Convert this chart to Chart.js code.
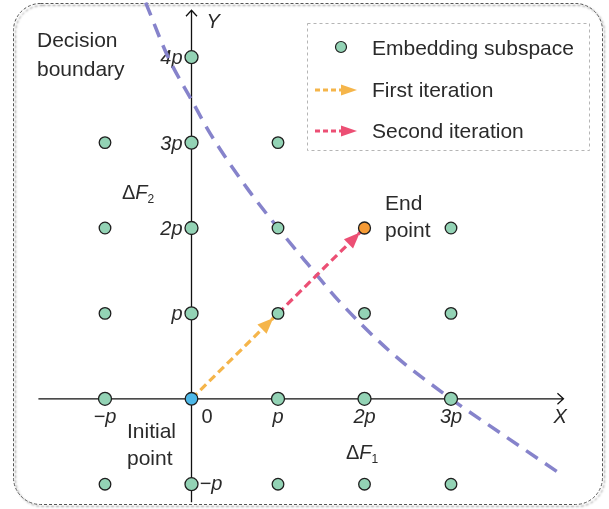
<!DOCTYPE html>
<html><head><meta charset="utf-8">
<script src="https://cdn.jsdelivr.net/npm/chart.js@4.4.1/dist/chart.umd.min.js"></script>
<style>html,body{margin:0;padding:0;background:#fff}#wrap{width:609px;height:509px;position:relative}</style>
</head><body><div id="wrap"><canvas id="c"></canvas></div>
<script>
// ---- data (units of p) ----
const subspaceX = [0, -1, 0, 1, -1, 0, 1, 3, -1, 0, 1, 2, 3, -1, 1, 2, 3, -1, 0, 1, 2, 3];
const subspaceY = [4, 3, 3, 3, 2, 2, 2, 2, 1, 1, 1, 1, 1, 0, 0, 0, 0, -1, -1, -1, -1, -1];
const initialPoint = [0, 0];
const endPoint = [2, 2];
const firstIterX = [0, 1], firstIterY = [0, 1];
const secondIterX = [1, 2], secondIterY = [1, 2];
const boundaryX = [-0.53, -0.27, 0.0, 0.22, 0.64, 1.0, 1.35, 1.70, 2.3, 3.0, 3.57, 4.28];
const boundaryY = [4.64, 4.0, 3.5, 3.1, 2.47, 2.0, 1.57, 1.15, 0.55, 0.0, -0.40, -0.89];
const xTickValues = [-1, 0, 1, 2, 3];
const xTickLabels = ['\u2212p', '0', 'p', '2p', '3p'];
const yTickValues = [4, 3, 2, 1, -1];
const yTickLabels = ['4p', '3p', '2p', 'p', '\u2212p'];
const axisXRange = [-1.77, 4.30];
const axisYRange = [-1.21, 4.55];
const legendLabels = ['Embedding subspace', 'First iteration', 'Second iteration'];

// ---- styles ----
const GREEN = '#93d3b5', EDGE = '#1f1f1f', BLUE = '#4db8e8', ORANGE = '#f59a35';
const ARROW1 = '#f5b54a', ARROW2 = '#ec4f74', CURVE = '#8683cb', TXT = '#2a2a2a';
const FONT = '"Liberation Sans", Arial, sans-serif';

const pts = (xs, ys) => xs.map((x, i) => ({x, y: ys[i]}));

const bgPlugin = {
  id: 'bg',
  beforeDraw(chart) {
    const c = chart.ctx;
    c.save();
    c.fillStyle = '#fff'; c.fillRect(0, 0, chart.width, chart.height);
    c.shadowColor = 'rgba(0,0,0,0.5)'; c.shadowOffsetX = 2; c.shadowOffsetY = 2; c.shadowBlur = 2;
    c.strokeStyle = '#555'; c.lineWidth = 1; c.setLineDash([3, 2]);
    c.beginPath(); c.roundRect(13.5, 3.5, 589, 501, 27); c.stroke();
    c.restore();
  },
  beforeDatasetsDraw(chart) {
    const c = chart.ctx, xs = chart.scales.x, ys = chart.scales.y;
    const x0 = xs.getPixelForValue(0), y0 = ys.getPixelForValue(0);
    c.save();
    c.strokeStyle = '#111'; c.lineWidth = 1.3; c.setLineDash([]);
    const xl = xs.getPixelForValue(axisXRange[0]), xr = xs.getPixelForValue(axisXRange[1]);
    const yb = ys.getPixelForValue(axisYRange[0]), yt = ys.getPixelForValue(axisYRange[1]);
    c.beginPath();
    c.moveTo(xl, y0); c.lineTo(xr, y0);
    c.moveTo(xr - 6, y0 - 5.5); c.lineTo(xr, y0); c.lineTo(xr - 6, y0 + 5.5);
    c.moveTo(x0, yb); c.lineTo(x0, yt);
    c.moveTo(x0 - 5.5, yt + 6); c.lineTo(x0, yt); c.lineTo(x0 + 5.5, yt + 6);
    c.stroke();
    c.fillStyle = TXT;
    c.font = 'italic 20px ' + FONT; c.textAlign = 'left'; c.textBaseline = 'alphabetic';
    c.fillText('Y', x0 + 15, yt + 18);
    c.fillText('X', xr - 10, y0 + 24);
    // x tick labels
    xTickValues.forEach((v, i) => {
      const px = xs.getPixelForValue(v);
      if (v === 0) { c.font = '20px ' + FONT; c.textAlign = 'left'; c.fillText(xTickLabels[i], px + 10, y0 + 24); }
      else { c.font = 'italic 20px ' + FONT; c.textAlign = 'center'; c.fillText(xTickLabels[i], px, y0 + 24); }
    });
    // y tick labels
    c.font = 'italic 20px ' + FONT;
    yTickValues.forEach((v, i) => {
      const py = ys.getPixelForValue(v);
      if (v < 0) { c.textAlign = 'left'; c.fillText(yTickLabels[i], x0 + 8, py + 6); }
      else { c.textAlign = 'right'; c.fillText(yTickLabels[i], x0 - 9, py + 7); }
    });
    // annotations
    c.font = '21px ' + FONT; c.textAlign = 'left';
    c.fillText('Decision', 37, 47); c.fillText('boundary', 37, 76);
    c.fillText('End', 385, 210); c.fillText('point', 385, 237);
    c.fillText('Initial', 127, 438); c.fillText('point', 127, 465);
    const delta = (x, y, sub) => {
      c.font = '20px ' + FONT; c.fillText('\u0394', x, y);
      let w = c.measureText('\u0394').width;
      c.font = 'italic 20px ' + FONT; c.fillText('F', x + w, y);
      w += c.measureText('F').width;
      c.font = '12px ' + FONT; c.fillText(sub, x + w, y + 4);
    };
    delta(122, 199, '2');
    delta(346, 459, '1');
    c.restore();
  },
  afterDatasetsDraw(chart) {
    const c = chart.ctx;
    chart.data.datasets.forEach((ds, i) => {
      if (!ds.arrowColor) return;
      const m = chart.getDatasetMeta(i).data;
      const a = m[m.length - 2], b = m[m.length - 1];
      const dx = b.x - a.x, dy = b.y - a.y, L = Math.hypot(dx, dy), ux = dx / L, uy = dy / L;
      const tx = b.x - ux * 6.5, ty = b.y - uy * 6.5;
      const bx = tx - ux * 16, by = ty - uy * 16;
      c.save(); c.fillStyle = ds.arrowColor; c.beginPath();
      c.moveTo(tx, ty); c.lineTo(bx - uy * 6.5, by + ux * 6.5); c.lineTo(bx + uy * 6.5, by - ux * 6.5);
      c.closePath(); c.fill(); c.restore();
    });
    // legend
    c.save();
    c.fillStyle = '#fff'; c.fillRect(307.5, 23.5, 282, 127);
    c.strokeStyle = '#b5b5b5'; c.lineWidth = 1; c.setLineDash([3, 3]);
    c.strokeRect(307.5, 23.5, 282, 127);
    c.setLineDash([]);
    c.beginPath(); c.arc(341, 47, 5.5, 0, Math.PI * 2);
    c.fillStyle = GREEN; c.fill(); c.strokeStyle = EDGE; c.lineWidth = 1.2; c.stroke();
    const baselines = [55, 97, 138];
    const arrowCols = [null, ARROW1, ARROW2];
    c.font = '21px ' + FONT; c.textAlign = 'left'; c.textBaseline = 'alphabetic';
    legendLabels.forEach((t, i) => {
      c.fillStyle = TXT; c.fillText(t, 372, baselines[i]);
      if (arrowCols[i]) {
        const y = baselines[i] - 7;
        c.strokeStyle = arrowCols[i]; c.lineWidth = 3; c.setLineDash([5, 3]);
        c.beginPath(); c.moveTo(315, y); c.lineTo(343, y); c.stroke(); c.setLineDash([]);
        c.fillStyle = arrowCols[i]; c.beginPath();
        c.moveTo(357, y); c.lineTo(341, y - 5.5); c.lineTo(341, y + 5.5); c.closePath(); c.fill();
      }
    });
    c.restore();
  }
};

const radiusFor = ctx => { const r = ctx.raw; return (r && (r.x === 0 || r.y === 0)) ? 6.5 : 5.8; };

new Chart(document.getElementById('c'), {
  type: 'scatter',
  data: {
    datasets: [
      { label: legendLabels[0], data: pts(subspaceX, subspaceY), order: 0,
        backgroundColor: GREEN, borderColor: EDGE, borderWidth: 1.3, pointRadius: radiusFor },
      { label: 'Initial point', data: [{x: initialPoint[0], y: initialPoint[1]}], order: 0,
        backgroundColor: BLUE, borderColor: EDGE, borderWidth: 1.3, pointRadius: 6.3 },
      { label: 'End point', data: [{x: endPoint[0], y: endPoint[1]}], order: 0,
        backgroundColor: ORANGE, borderColor: EDGE, borderWidth: 1.3, pointRadius: 6 },
      { label: legendLabels[1], data: pts(firstIterX, firstIterY), order: 1, showLine: true,
        borderColor: ARROW1, borderWidth: 3.2, borderDash: [8, 4.5], pointRadius: 0, arrowColor: ARROW1 },
      { label: legendLabels[2], data: pts(secondIterX, secondIterY), order: 1, showLine: true,
        borderColor: ARROW2, borderWidth: 3.2, borderDash: [8, 4.5], pointRadius: 0, arrowColor: ARROW2 },
      { label: 'Decision boundary', data: pts(boundaryX, boundaryY), order: 2, showLine: true,
        borderColor: CURVE, borderWidth: 3.5, borderDash: [14, 9], pointRadius: 0,
        cubicInterpolationMode: 'monotone' }
    ]
  },
  options: {
    responsive: true, maintainAspectRatio: false, animation: false, events: [],
    layout: { padding: 0, autoPadding: false },
    plugins: { legend: { display: false }, tooltip: { enabled: false } },
    scales: {
      x: { type: 'linear', display: false, min: -191.5 / 86.5, max: (609 - 191.5) / 86.5 },
      y: { type: 'linear', display: false, min: -(509 - 398.8) / 85.4, max: 398.8 / 85.4 }
    }
  },
  plugins: [bgPlugin]
});
</script>
</body></html>
